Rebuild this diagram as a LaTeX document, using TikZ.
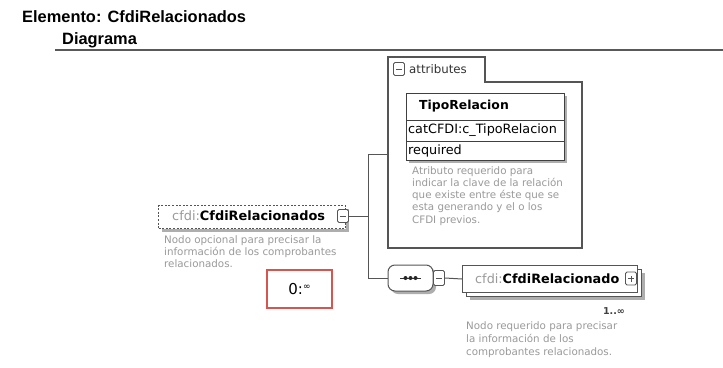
\documentclass[tikz,border=0pt]{standalone}
\usepackage{fontspec}
\setmainfont{DejaVu Sans}
\newfontfamily\titlefont{Liberation Sans}
\usetikzlibrary{shadows}
\definecolor{linec}{HTML}{555555}
\definecolor{desc}{HTML}{9A9A9A}
\definecolor{redbox}{HTML}{D9534F}
\tikzset{
  bx/.style={draw=linec, line width=1pt, fill=white, inner sep=0pt},
  shad/.style={drop shadow={shadow xshift=3pt, shadow yshift=-3pt, fill=black!45, opacity=.7}},
  pm/.style={draw=linec, line width=0.9pt, fill=white, rounded corners=1.5pt, minimum width=11pt, minimum height=13pt, inner sep=0pt},
  desctext/.style={text=desc, align=left, inner sep=0pt, font=\fontsize{10.3}{12.3}\selectfont},
  conn/.style={draw=linec, line width=1pt},
}
\begin{document}
\begin{tikzpicture}[x=1pt,y=-1pt]
\useasboundingbox (0,0) rectangle (723,367);
\fill[white] (0,0) rectangle (723,367);
% header
\node[anchor=west, inner sep=0pt, font=\titlefont\bfseries\fontsize{16.4}{18}\selectfont] (title) at (22,17) {Elemento: CfdiRelacionados};
\node[anchor=west, inner sep=0pt, font=\titlefont\bfseries\fontsize{16.4}{18}\selectfont] (diag) at (62,40) {Diagrama};
\draw[line width=2.2pt, black!65] (55,50) -- (723,50);

% attributes container
\draw[draw=linec, line width=1.1pt] (388,248) -- (388,57) -- (485,57) -- (485,82) -- (582,82) -- (582,248) -- cycle;
\node[inner sep=0pt, minimum width=194pt, minimum height=166pt, anchor=north west] (attrbox) at (388,82) {};
\node[pm] (attrminus) at (399,69) {};
\draw[linec, line width=0.9pt] ([xshift=-3pt]attrminus.center) -- ([xshift=3pt]attrminus.center);
\node[anchor=west, inner sep=0pt, text=black!80, font=\fontsize{11.8}{13}\selectfont] (attrlbl) at (409,69) {attributes};

% TipoRelacion
\fill[black!45, opacity=.7] (409,96) rectangle (567,163);
\node[draw=black!75, line width=1.3pt, fill=white, anchor=north west, minimum width=158pt, minimum height=27pt, inner sep=0pt] (th) at (406,93) {};
\node[anchor=west, inner sep=0pt, font=\bfseries\fontsize{12.4}{14}\selectfont] (thtext) at (419,106.5) {TipoRelacion};
\node[draw=black!75, line width=1.3pt, fill=white, anchor=north west, minimum width=158pt, minimum height=21pt, inner sep=0pt] (tr1) at (406,120) {};
\node[anchor=west, inner sep=0pt, font=\fontsize{12.8}{14}\selectfont] (tr1text) at (408,130.5) {catCFDI:c\_TipoRelacion};
\node[draw=black!75, line width=1.3pt, fill=white, anchor=north west, minimum width=158pt, minimum height=19pt, inner sep=0pt] (tr2) at (406,141) {};
\node[anchor=west, inner sep=0pt, font=\fontsize{12.8}{14}\selectfont] (tr2text) at (408,150.5) {required};
\node[desctext, anchor=north west] (attrdesc) at (412,166) {Atributo requerido para\\indicar la clave de la relación\\que existe entre éste que se\\esta generando y el o los\\CFDI previos.};

% CfdiRelacionados element (optional)
\node[bx, dashed, dash pattern=on 2pt off 1.6pt, shad, anchor=north west, minimum width=187pt, minimum height=23pt] (A) at (158,205) {};
\node[anchor=west, inner sep=0pt, font=\fontsize{12.9}{14}\selectfont] (Atext) at (172,216) {\textcolor{desc}{cfdi:}\textbf{CfdiRelacionados}};
\node[pm] (Aminus) at (343,216) {};
\draw[linec, line width=0.9pt] ([xshift=-3pt]Aminus.center) -- ([xshift=3pt]Aminus.center);
\node[desctext, anchor=north west] (Adesc) at (164,235) {Nodo opcional para precisar la\\información de los comprobantes\\relacionados.};
\node[draw=redbox, line width=1.2pt, minimum width=65pt, minimum height=38pt, inner sep=0pt] (card) at (299.5,289) {\fontsize{15}{16}\selectfont 0:\raisebox{5pt}{\fontsize{9}{10}\selectfont ∞}};

% bracket
\coordinate (J) at (368,216);
\coordinate (Jtop) at (368,154);
\coordinate (Jbot) at (368,278);
\draw[conn] (Aminus.east) -- (J);
\draw[conn] (Jtop) -- (attrbox.west |- Jtop);
\draw[conn] (Jtop) -- (Jbot);

% sequence
\node[bx, shad, rounded corners=7pt, minimum width=45pt, minimum height=26pt] (seq) at (410.5,278) {};
\draw[conn] (Jbot) -- (seq.west);
\draw[black!80, line width=1pt] (400,278) -- (421,278);
\foreach \xx in {405.5,410.5,415.5} \fill[black!85] (\xx,278) circle (2pt);
\node[pm, minimum width=11pt, minimum height=15pt] (seqminus) at (439,278) {};
\draw[linec, line width=0.9pt] ([xshift=-3pt]seqminus.center) -- ([xshift=3pt]seqminus.center);

% CfdiRelacionado (1..inf)
\node[bx, shad, anchor=north west, minimum width=175pt, minimum height=27pt] (Bback) at (466,269) {};
\node[bx, anchor=north west, minimum width=175pt, minimum height=27pt] (B) at (462,265) {};
\draw[conn] (seqminus.east) -- (B.west);
\node[anchor=west, inner sep=0pt, font=\fontsize{12.8}{14}\selectfont] (Btext) at (475,278.5) {\textcolor{desc}{cfdi:}\textbf{CfdiRelacionado}};
\node[pm] (Bplus) at (631,278.5) {};
\draw[linec, line width=0.9pt] ([xshift=-3pt]Bplus.center) -- ([xshift=3pt]Bplus.center);
\draw[linec, line width=0.9pt] ([yshift=-3pt]Bplus.center) -- ([yshift=3pt]Bplus.center);
\node[anchor=center, inner sep=0pt, text=black!75, font=\bfseries\fontsize{9.5}{10}\selectfont] (Bcard) at (614,311) {1..∞};
\node[desctext, anchor=north west, font=\fontsize{10.3}{13}\selectfont] (Bdesc) at (466,321) {Nodo requerido para precisar\\la información de los\\comprobantes relacionados.};
\end{tikzpicture}
\end{document}
